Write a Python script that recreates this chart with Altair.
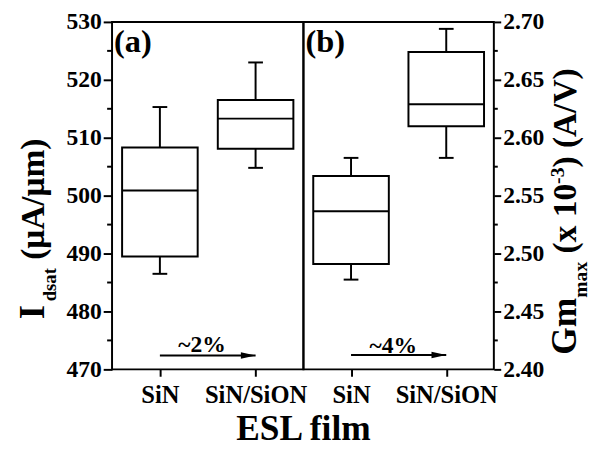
import altair as alt
import pandas as pd

# ---------------- data ----------------
cats = ["SiN", "SiN/SiON"]

# panel (a): Idsat (uA/um)
a_min = [486.5, 504.8]
a_q1 = [489.5, 508.1]
a_med = [500.9, 513.3]
a_q3 = [508.3, 516.5]
a_max = [515.3, 523.0]
a_ticks = [470, 480, 490, 500, 510, 520, 530]
a_minor = [475, 485, 495, 505, 515, 525]
a_arrow = [472.4, 472.4]
a_note_y = 473.0

# panel (b): Gm_max (x 1e-3 A/V)
b_min = [2.4775, 2.5826]
b_q1 = [2.491, 2.610]
b_med = [2.5365, 2.629]
b_q3 = [2.567, 2.674]
b_max = [2.5826, 2.694]
b_ticks = [2.40, 2.45, 2.50, 2.55, 2.60, 2.65, 2.70]
b_minor = [2.425, 2.475, 2.525, 2.575, 2.625, 2.675]
b_arrow = [2.4124, 2.4124]
b_note_y = 2.4145

FONT = "Liberation Serif"
H = 354
W_A, W_B = 195, 194
LW = 2
BOX = 77
LABEL_FS = 24

# Times-Bold advance widths (per em) for laying out rich-text titles
ADV = {" ": .25, "(": .333, ")": .333, "I": .389, "d": .556, "s": .389, "a": .5,
       "t": .333, "μ": .556, "A": .722, "/": .278, "m": .833, "G": .778,
       "x": .5, "1": .5, "0": .5, "-": .333, "3": .5, "V": .722}


def adv(text, size):
    return sum(ADV.get(c, .5) for c in text) * size


def one():
    return alt.Data(values=[{"k": 0}])


def text_at(t, x, y, size, angle=0, align="left", baseline="alphabetic"):
    kw = dict(font=FONT, fontWeight="bold", fontSize=size, align=align,
              baseline=baseline, color="black")
    if angle:
        kw["angle"] = angle
    return alt.Chart(one()).mark_text(**kw).encode(
        x=alt.value(x), y=alt.value(y), text=alt.value(t))


def rich_title(pieces, start_y):
    """pieces: (text, size, baseline_x, gap_before)"""
    layers = []
    y = start_y
    for t, s, bx, gap in pieces:
        y -= gap
        layers.append(text_at(t, bx, y, s, angle=270))
        y -= adv(t, s)
    return layers


def panel(mins, q1, med, q3, mx, domain, ticks, minor, fmt, orient, width,
          tick_size, tag, note, note_y, arrow_y, extra):
    df = pd.DataFrame({"cat": cats, "lo": mins, "q1": q1, "med": med,
                       "q3": q3, "hi": mx})
    xaxis = alt.Axis(title=None, labelAngle=0, tickSize=7, labelPadding=7,
                     labelFontSize=25, domain=False, grid=False)
    xs = alt.Scale(type="point", domain=cats, padding=0.5)
    X = alt.X("cat:N", scale=xs, axis=xaxis)
    ys = alt.Scale(domain=domain, nice=False, zero=False)
    yaxis = alt.Axis(title=None, orient=orient, values=ticks, format=fmt,
                     tickSize=tick_size, labelPadding=2, domain=False,
                     grid=False)

    def Y(f):
        return alt.Y(f, scale=ys, axis=yaxis)

    base = alt.Chart(df)
    whisk = base.mark_rule(color="black", strokeWidth=LW).encode(
        x=X, y=Y("lo:Q"), y2="hi:Q")
    box = base.mark_bar(size=BOX, fill="white", stroke="black",
                        strokeWidth=LW).encode(x=X, y=Y("q1:Q"), y2="q3:Q")
    medl = base.mark_tick(size=BOX, thickness=LW, color="black",
                          opacity=1).encode(x=X, y=Y("med:Q"))
    cap_lo = base.mark_tick(size=15, thickness=LW, color="black",
                            opacity=1).encode(x=X, y=Y("lo:Q"))
    cap_hi = base.mark_tick(size=15, thickness=LW, color="black",
                            opacity=1).encode(x=X, y=Y("hi:Q"))

    # minor ticks on the value axis
    mdf = pd.DataFrame({"v": minor})
    if orient == "left":
        mx0, mx1 = -5, 0
    else:
        mx0, mx1 = width, width + 4
    minor_l = alt.Chart(mdf).mark_rule(color="black", strokeWidth=LW).encode(
        y=Y("v:Q"), x=alt.value(mx0), x2=alt.value(mx1))

    # arrow with percentage
    adf = pd.DataFrame({"cat": cats, "y": arrow_y})
    arrow = alt.Chart(adf).mark_line(color="black", strokeWidth=2.2).encode(
        x=X, y=Y("y:Q"))
    head = alt.Chart(pd.DataFrame({"cat": [cats[1]], "y": [arrow_y[1]]})).mark_point(
        shape="M-1,-0.45L1,0L-1,0.45Z", filled=True, size=225, color="black",
        opacity=1, xOffset=-7.5).encode(x=X, y=Y("y:Q"))
    ndf = pd.DataFrame({"cat": [cats[0]], "y": [note_y], "t": [note]})
    note_l = alt.Chart(ndf).mark_text(font=FONT, fontWeight="bold",
                                      fontSize=24, align="center",
                                      baseline="alphabetic", dx=43,
                                      color="black").encode(
        x=X, y=Y("y:Q"), text="t:N")

    tag_l = text_at(tag, 2, 31, 33)

    layers = [whisk, box, medl, cap_lo, cap_hi, minor_l, arrow, head,
              note_l, tag_l] + extra
    return alt.layer(*layers).properties(width=width, height=H)


# left rich title: I_dsat (μA/μm)
left_title = rich_title([
    ("I", 37, -69, 0),
    ("dsat", 19, -57, 4),
    ("(μA/μm)", 34, -69, adv(" ", 34)),
], 303)

# right rich title: Gm_max (x 10^-3) (A/V)
right_title = rich_title([
    ("Gm", 36, 278, 0),
    ("max", 20, 289, 0),
    ("(x 10", 34, 278, adv(" ", 34)),
    ("-3", 20, 265, 0),
    (") (A/V)", 34, 278, 0),
], 339)

x_title = text_at("ESL film", W_A, 426, 36, align="center")

left = panel(a_min, a_q1, a_med, a_q3, a_max, [470, 530], a_ticks, a_minor,
             "d", "left", W_A, 9, "(a)", "~2%", a_note_y, a_arrow,
             left_title + [x_title])
right = panel(b_min, b_q1, b_med, b_q3, b_max, [2.40, 2.70], b_ticks, b_minor,
              ".2f", "right", W_B, 7, "(b)", "~4%", b_note_y, b_arrow,
              right_title)

chart = alt.hconcat(left, right, spacing=0, bounds="flush").properties(
    padding={"left": 6, "top": -3, "right": 0, "bottom": 0},
    background="white"
).configure_view(
    stroke="black", strokeWidth=LW
).configure_axis(
    labelFont=FONT, labelFontWeight="bold", labelFontSize=LABEL_FS,
    labelColor="black", tickColor="black", tickWidth=LW
)

chart.save("out.html", embed_options={"renderer": "svg", "actions": False})
